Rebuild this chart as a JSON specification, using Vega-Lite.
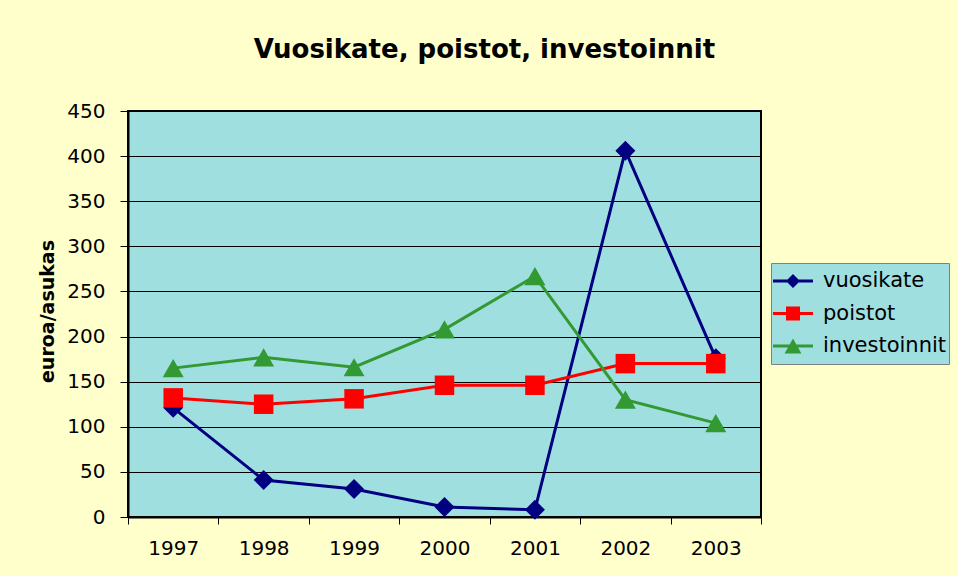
{
  "$schema": "https://vega.github.io/schema/vega-lite/v6.json",
  "width": 633,
  "height": 406,
  "autosize": {"type": "none"},
  "padding": {"left": 128, "top": 111, "right": 197, "bottom": 59},
  "background": "#FFFFCC",
  "title": {
    "text": "Vuosikate, poistot, investoinnit",
    "font": "DejaVu Sans",
    "fontSize": 26,
    "fontWeight": "bold",
    "color": "#000000",
    "anchor": "middle",
    "frame": "group",
    "dx": 40,
    "offset": 17,
    "baseline": "alphabetic"
  },
  "data": {
    "values": [
      {"year": "1997", "series": "vuosikate", "value": 121},
      {"year": "1998", "series": "vuosikate", "value": 41},
      {"year": "1999", "series": "vuosikate", "value": 31},
      {"year": "2000", "series": "vuosikate", "value": 11},
      {"year": "2001", "series": "vuosikate", "value": 8},
      {"year": "2002", "series": "vuosikate", "value": 406},
      {"year": "2003", "series": "vuosikate", "value": 176},
      {"year": "1997", "series": "poistot", "value": 132},
      {"year": "1998", "series": "poistot", "value": 125},
      {"year": "1999", "series": "poistot", "value": 131},
      {"year": "2000", "series": "poistot", "value": 146},
      {"year": "2001", "series": "poistot", "value": 146},
      {"year": "2002", "series": "poistot", "value": 170},
      {"year": "2003", "series": "poistot", "value": 170},
      {"year": "1997", "series": "investoinnit", "value": 165},
      {"year": "1998", "series": "investoinnit", "value": 177},
      {"year": "1999", "series": "investoinnit", "value": 166},
      {"year": "2000", "series": "investoinnit", "value": 208},
      {"year": "2001", "series": "investoinnit", "value": 267},
      {"year": "2002", "series": "investoinnit", "value": 130},
      {"year": "2003", "series": "investoinnit", "value": 104}
    ]
  },
  "encoding": {
    "x": {
      "field": "year",
      "type": "ordinal",
      "scale": {"type": "band", "paddingInner": 0, "paddingOuter": 0},
      "axis": {
        "title": null,
        "tickBand": "extent",
        "labelAngle": 0,
        "labelFont": "DejaVu Sans",
        "labelFontSize": 20,
        "labelColor": "#000000",
        "tickColor": "#000000",
        "tickSize": 7,
        "domainColor": "#000000",
        "domainWidth": 2,
        "labelPadding": 14,
        "grid": false
      }
    },
    "y": {
      "field": "value",
      "type": "quantitative",
      "scale": {"domain": [0, 450], "nice": false},
      "axis": {
        "title": "euroa/asukas",
        "titleFont": "DejaVu Sans",
        "titleFontSize": 19,
        "titleFontWeight": "bold",
        "titleColor": "#000000",
        "titleX": -75,
        "titleY": 200,
        "titleBaseline": "alphabetic",
        "titleAngle": -90,
        "titleAlign": "center",
        "values": [0, 50, 100, 150, 200, 250, 300, 350, 400, 450],
        "labelFont": "DejaVu Sans",
        "labelFontSize": 20,
        "labelColor": "#000000",
        "tickColor": "#000000",
        "tickSize": 8,
        "labelPadding": 15,
        "domainColor": "#000000",
        "domainWidth": 2,
        "grid": true,
        "gridColor": "#000000",
        "gridOpacity": 1,
        "gridWidth": 1
      }
    },
    "color": {
      "field": "series",
      "type": "nominal",
      "scale": {
        "domain": ["vuosikate", "poistot", "investoinnit"],
        "range": ["#000080", "#FF0000", "#339933"]
      },
      "legend": {
        "title": null,
        "orient": "none",
        "legendX": 643,
        "legendY": 152,
        "fillColor": "#A0DFE0",
        "strokeColor": "#808080",
        "padding": 2,
        "labelFont": "DejaVu Sans",
        "labelFontSize": 21,
        "labelColor": "#000000",
        "labelOffset": 10,
        "symbolSize": 1600,
        "clipHeight": 32,
        "rowPadding": 0.5,
        "symbolStrokeWidth": 0,
        "encode": {
          "symbols": {
            "update": {
              "shape": {"signal": "datum.value === 'vuosikate' ? 'M-1,-0.075L1,-0.075L1,0.075L-1,0.075ZM0,-0.35L0.35,0L0,0.35L-0.35,0Z' : datum.value === 'poistot' ? 'M-1,-0.075L1,-0.075L1,0.075L-1,0.075ZM-0.35,-0.35L0.35,-0.35L0.35,0.35L-0.35,0.35Z' : 'M-1,-0.075L1,-0.075L1,0.075L-1,0.075ZM0,-0.37L0.42,0.38L-0.42,0.38Z'"},
              "fill": {"signal": "scale('color', datum.value)"},
              "strokeWidth": {"value": 0},
              "opacity": {"value": 1},
              "fillOpacity": {"value": 1}
            }
          }
        }
      }
    }
  },
  "layer": [
    {"mark": {"type": "line", "strokeWidth": 3}},
    {
      "transform": [{"filter": "datum.series === 'vuosikate'"}],
      "mark": {"type": "point", "shape": "diamond", "filled": true, "opacity": 1, "strokeWidth": 0, "size": 400}
    },
    {
      "transform": [{"filter": "datum.series === 'poistot'"}],
      "mark": {"type": "point", "shape": "square", "filled": true, "opacity": 1, "strokeWidth": 0, "size": 380}
    },
    {
      "transform": [{"filter": "datum.series === 'investoinnit'"}],
      "mark": {"type": "point", "shape": "triangle-up", "filled": true, "opacity": 1, "strokeWidth": 0, "size": 441}
    }
  ],
  "config": {
    "view": {"fill": "#A0DFE0", "stroke": "#000000", "strokeWidth": 2}
  }
}
